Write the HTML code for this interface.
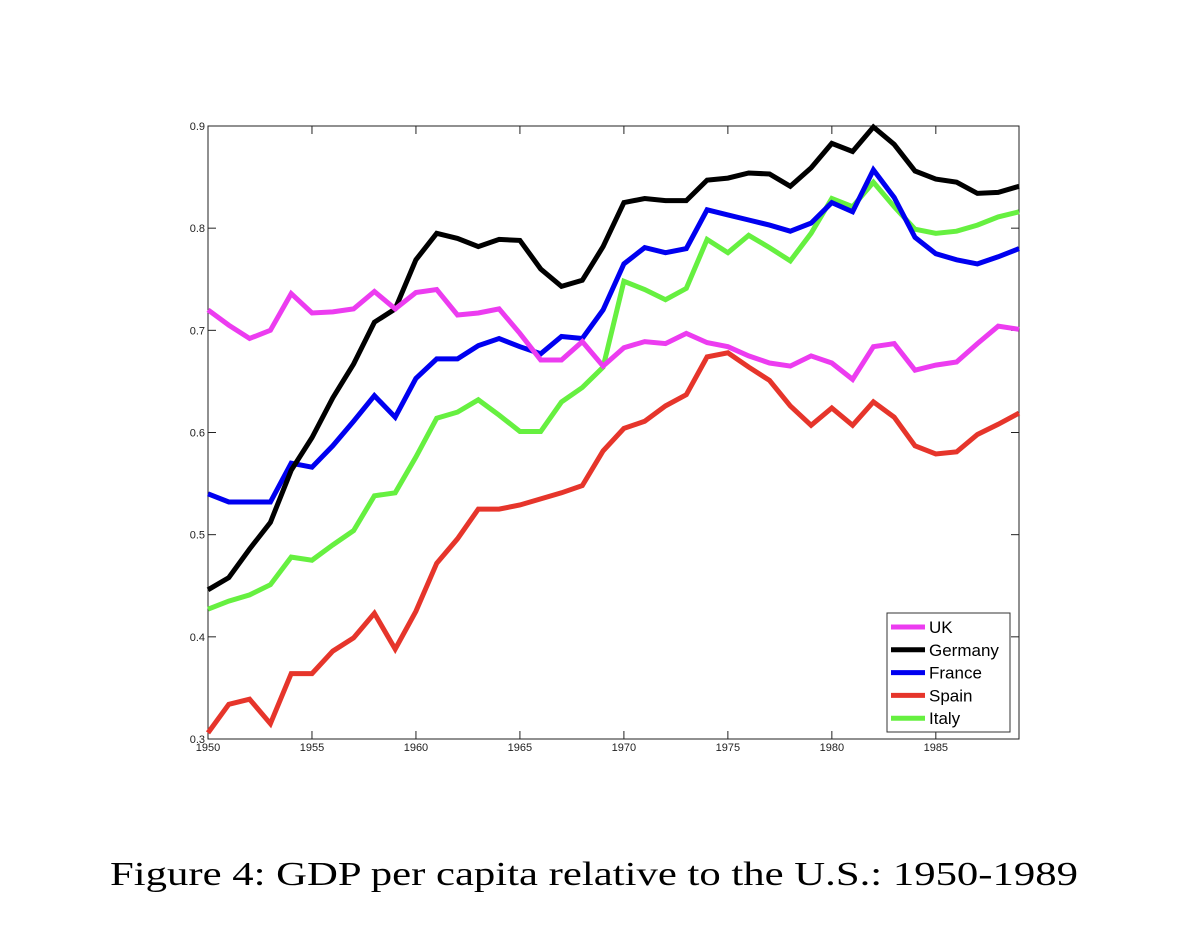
<!DOCTYPE html>
<html><head><meta charset="utf-8"><style>
body{margin:0;background:#fff;width:1200px;height:946px;overflow:hidden}
svg{display:block}
.tk{font-family:"Liberation Sans",Arial,sans-serif;font-size:11px;fill:#222}
.lg{font-family:"Liberation Sans",Arial,sans-serif;font-size:17px;fill:#000}
.cap{font-family:"Liberation Serif","Times New Roman",serif;font-size:34px;fill:#000}
</style></head><body>
<svg id="chart" width="1200" height="946" viewBox="0 0 1200 946"></svg>
<script>
const years = [];
for (let y = 1950; y <= 1989; y++) years.push(y);
const uk = [.72,.705,.692,.70,.736,.717,.718,.721,.738,.721,.737,.740,.715,.717,.721,.697,.671,.671,.689,.665,.683,.689,.687,.697,.688,.684,.675,.668,.665,.675,.668,.652,.684,.687,.661,.666,.669,.687,.704,.701];
const germany = [.446,.458,.486,.512,.563,.595,.634,.667,.708,.721,.769,.795,.790,.782,.789,.788,.760,.743,.749,.782,.825,.829,.827,.827,.847,.849,.854,.853,.841,.859,.883,.875,.899,.882,.856,.848,.845,.834,.835,.841];
const france = [.540,.532,.532,.532,.570,.566,.587,.611,.636,.615,.653,.672,.672,.685,.692,.684,.677,.694,.692,.720,.765,.781,.776,.780,.818,.813,.808,.803,.797,.805,.825,.816,.857,.830,.791,.775,.769,.765,.772,.780];
const spain = [.306,.334,.339,.315,.364,.364,.386,.399,.423,.388,.425,.472,.496,.525,.525,.529,.535,.541,.548,.582,.604,.611,.626,.637,.674,.678,.664,.651,.626,.607,.624,.607,.630,.615,.587,.579,.581,.598,.608,.619];
const italy = [.427,.435,.441,.451,.478,.475,.490,.504,.538,.541,.576,.614,.620,.632,.617,.601,.601,.630,.644,.664,.748,.740,.730,.741,.789,.776,.793,.781,.768,.795,.829,.821,.845,.821,.799,.795,.797,.803,.811,.816];
const xTicks = [1950,1955,1960,1965,1970,1975,1980,1985];
const yTicks = [0.3,0.4,0.5,0.6,0.7,0.8,0.9];
const seriesNames = ["UK","Germany","France","Spain","Italy"];
const seriesColors = ["#ec3cf0","#000000","#0000f0","#e6352b","#66f040"];

const L=208,R=1019,T=126,B=739;
const X=v=>L+(v-1950)/(1989-1950)*(R-L);
const Y=v=>B-(v-0.3)/(0.9-0.3)*(B-T);
const NS="http://www.w3.org/2000/svg";
const svg=document.getElementById('chart');
function mk(tag,attrs,parent){const e=document.createElementNS(NS,tag);for(const k in attrs)e.setAttribute(k,attrs[k]);(parent||svg).appendChild(e);return e;}

const box=mk('rect',{x:L,y:T,width:R-L,height:B-T,fill:'none',stroke:'#222','stroke-width':1});



xTicks.forEach(t=>{
  const x=X(t);
  mk('line',{x1:x,y1:B,x2:x,y2:B-8,stroke:'#222'});
  mk('line',{x1:x,y1:T,x2:x,y2:T+8,stroke:'#222'});
  const tx=mk('text',{x:x,y:B+12,'text-anchor':'middle',class:'tk'});
  tx.textContent=t;
  
  
});
yTicks.forEach(t=>{
  const y=Y(t);
  mk('line',{x1:L,y1:y,x2:L+8,y2:y,stroke:'#222'});
  mk('line',{x1:R,y1:y,x2:R-8,y2:y,stroke:'#222'});
  const tx=mk('text',{x:L-3,y:y+4,'text-anchor':'end',class:'tk'});
  tx.textContent=t.toFixed(1);
  
  
});

const allSeries=[uk,germany,france,spain,italy];
const drawOrder=[3,4,2,1,0];
drawOrder.forEach(i=>{
  const d=allSeries[i].map((v,j)=>(j?'L':'M')+X(years[j]).toFixed(1)+','+Y(v).toFixed(1)).join(' ');
  const p=mk('path',{d:d,fill:'none',stroke:seriesColors[i],'stroke-width':5,'stroke-linejoin':'miter','stroke-miterlimit':3});
  
  
});

const lg=mk('g',{});


mk('rect',{x:887,y:613,width:123,height:119,fill:'#fff',stroke:'#333','stroke-width':1},lg);
seriesNames.forEach((n,i)=>{
  const y=627+i*22.8;
  const g=mk('g',{},lg);
  
  
  mk('line',{x1:891,y1:y,x2:925,y2:y,stroke:seriesColors[i],'stroke-width':5},g);
  const t=mk('text',{x:929,y:y+6,class:'lg'},g);
  t.textContent=n;
});

const cap=mk('text',{x:110,y:885,class:'cap',textLength:968,lengthAdjust:'spacingAndGlyphs'});
cap.textContent='Figure 4: GDP per capita relative to the U.S.: 1950-1989';


</script>
</body></html>
